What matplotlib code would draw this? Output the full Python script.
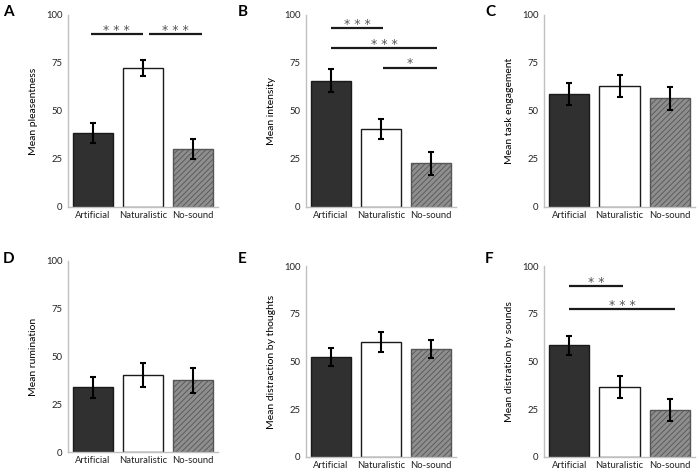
import matplotlib.pyplot as plt

plt.rcParams['font.family'] = ['Lato', 'DejaVu Sans']
plt.rcParams['hatch.linewidth'] = 0.6

categories = ['Artificial', 'Naturalistic', 'No-sound']

# panel data: means and error (upper - mean)
pleasantness = [38.3, 72.4, 30.2]
pleasantness_err = [5.2, 4.4, 5.1]
intensity = [65.8, 40.8, 22.7]
intensity_err = [5.9, 5.2, 6.0]
engagement = [58.8, 63.0, 56.6]
engagement_err = [5.9, 5.7, 6.0]
rumination = [33.8, 40.1, 37.5]
rumination_err = [5.6, 6.3, 6.4]
distr_thoughts = [52.2, 60.4, 56.5]
distr_thoughts_err = [4.7, 5.2, 4.9]
distr_sounds = [58.5, 36.7, 24.6]
distr_sounds_err = [5.1, 5.9, 5.6]

# significance brackets: (x start, x end, y level, stars)
brackets_a = [(-0.05, 0.99, 90.3, '* * *'), (1.13, 2.18, 90.3, '* * *')]
brackets_b = [(0.0, 1.04, 93.2, '* * *'), (0.0, 2.12, 82.8, '* * *'), (1.04, 2.12, 72.6, '*')]
brackets_f = [(0.0, 1.06, 89.5, '* *'), (0.0, 2.1, 77.3, '* * *')]

# letra, ylabel, valores, erros, brackets, caixa do eixo (px), posicao da letra (px)
panels = [
    ('A', 'Mean pleasentness', pleasantness, pleasantness_err, brackets_a, [68, 15, 150, 192], (3, 5)),
    ('B', 'Mean intensity', intensity, intensity_err, brackets_b, [306, 15, 150, 192], (238, 5)),
    ('C', 'Mean task engagement', engagement, engagement_err, [], [544, 15, 151, 192], (485, 5)),
    ('D', 'Mean rumination', rumination, rumination_err, [], [68, 261, 150, 191], (3, 252)),
    ('E', 'Mean distraction by thoughts', distr_thoughts, distr_thoughts_err, [], [306, 266, 150, 191], (238, 252)),
    ('F', 'Mean distration by sounds', distr_sounds, distr_sounds_err, brackets_f, [544, 266, 151, 191], (485, 252)),
]

W, H = 700, 474
fig = plt.figure(figsize=(7, 4.74), dpi=100)

faces = ['#303030', 'white', '#8e8e8e']
edges = ['#1a1a1a', '#1a1a1a', '#555555']
hatches = [None, None, '//////']

for letra, ylabel, vals, errs, brackets, (px, py, pw, ph), (lx, ly) in panels:
    ax = fig.add_axes([px / W, 1 - (py + ph) / H, pw / W, ph / H])
    x = range(len(categories))
    for i in x:
        ax.bar(i, vals[i], width=0.8, color=faces[i], edgecolor=edges[i],
               linewidth=1.0, hatch=hatches[i], zorder=2)
    ax.errorbar(list(x), vals, yerr=errs, fmt='none', ecolor='black',
                elinewidth=1.5, capsize=2, capthick=1.5, zorder=3)
    ax.set_xlim(-0.5, 2.5)
    ax.set_ylim(0, 100)
    ax.set_yticks([0, 25, 50, 75, 100])
    ax.set_xticks(list(x))
    ax.set_xticklabels(categories)
    ax.tick_params(axis='both', labelsize=6.8, colors='#222222', length=0, pad=4)
    ax.tick_params(axis='x', pad=3)
    for s in ['top', 'right']:
        ax.spines[s].set_visible(False)
    for s in ['left', 'bottom']:
        ax.spines[s].set_color('#c0c0c0')
        ax.spines[s].set_linewidth(1.0)
    ax.set_ylabel(ylabel, fontsize=7.5, color='black', labelpad=6)

    for x0, x1, yb, stars in brackets:
        ax.plot([x0, x1], [yb, yb], color='#1a1a1a', linewidth=1.6,
                solid_capstyle='butt', clip_on=False)
        ax.text((x0 + x1) / 2, yb - 1.5, stars, ha='center', va='bottom',
                fontsize=9, color='#555555', family='DejaVu Sans')

    fig.text(lx / W, 1 - ly / H, letra, fontsize=11,
             fontweight='bold', ha='left', va='top')

fig.savefig('out.png', dpi=100)
